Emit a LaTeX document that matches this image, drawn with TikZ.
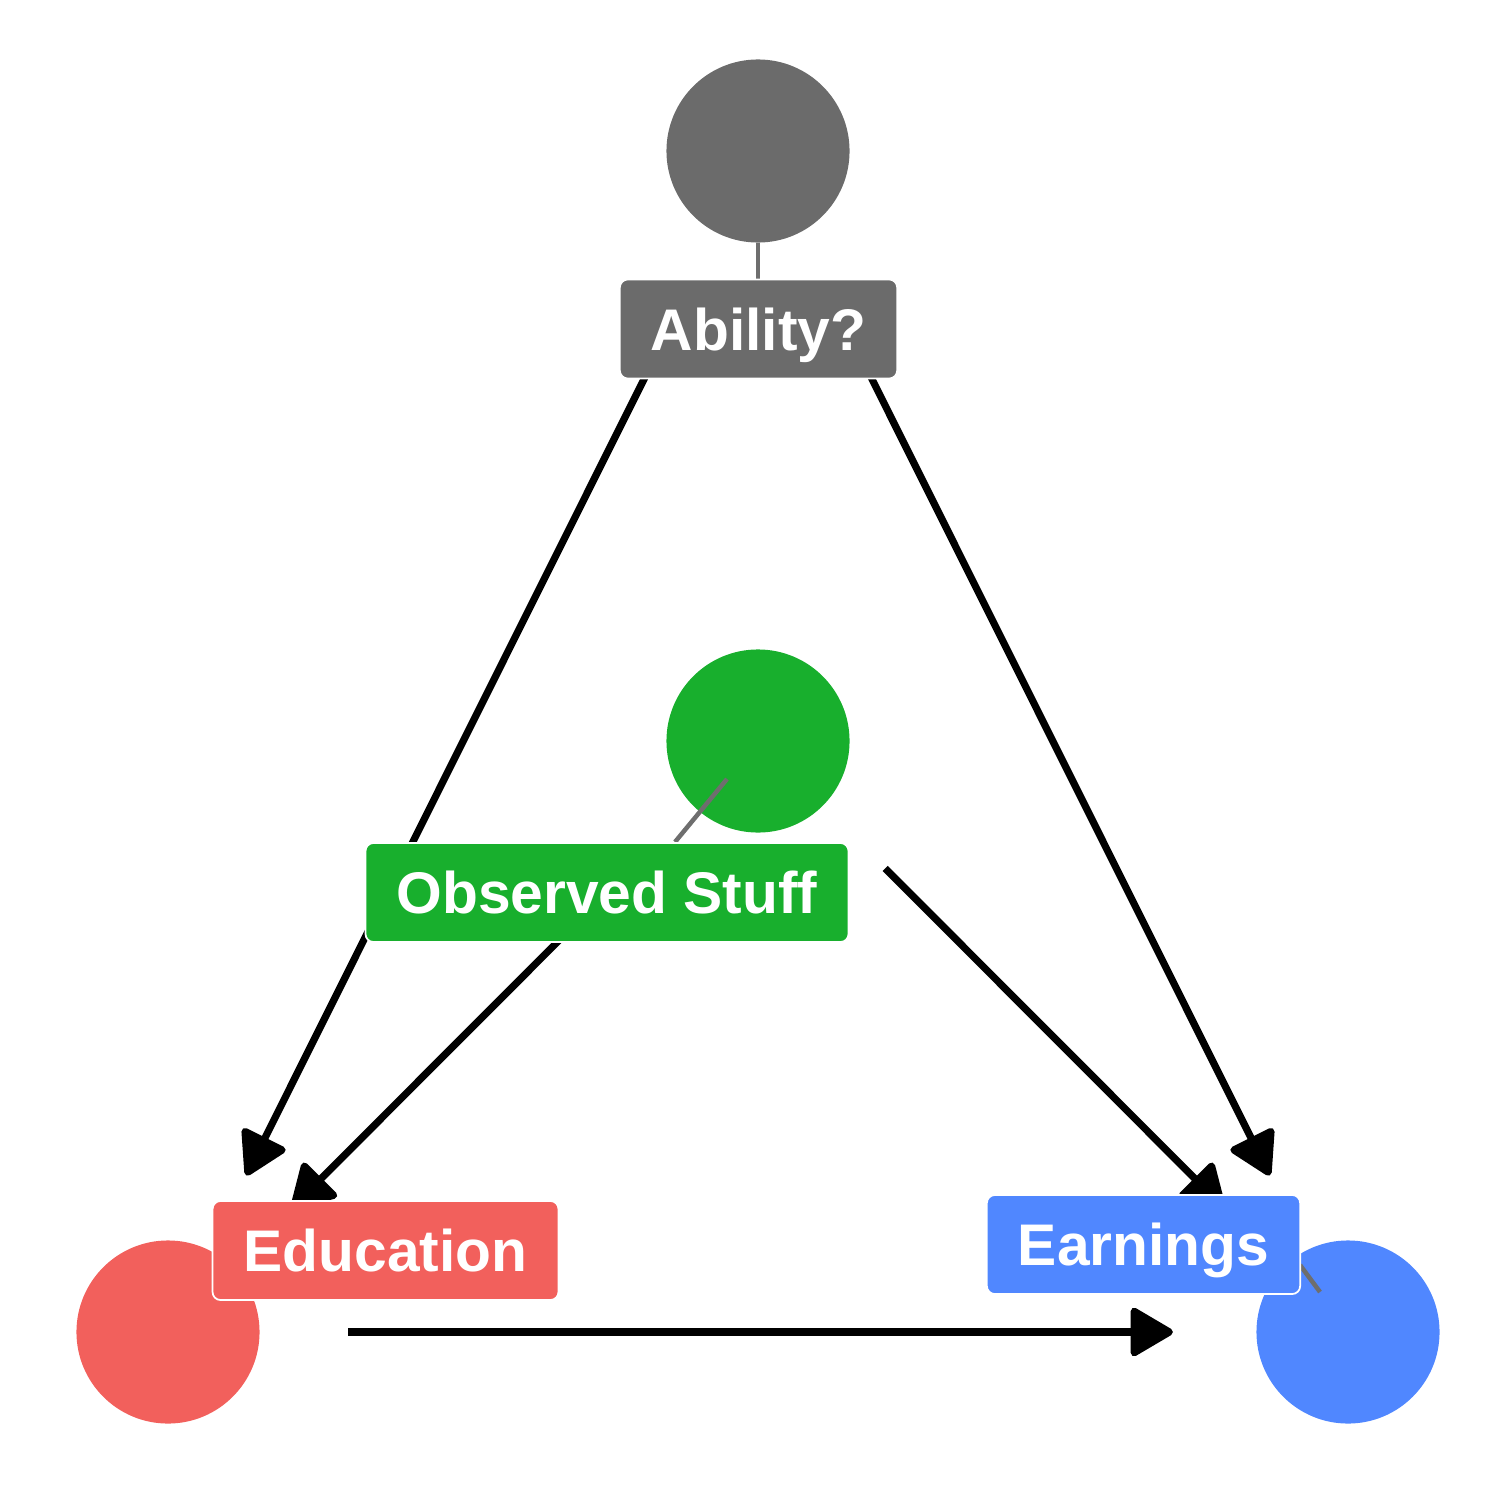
\documentclass[tikz,border=0pt]{standalone}
\usepackage{fontspec}
\setmainfont{Liberation Sans}
\usetikzlibrary{arrows.meta}
\definecolor{cgray}{HTML}{6B6B6B}
\definecolor{cgreen}{HTML}{18AF2D}
\definecolor{cred}{HTML}{F2605C}
\definecolor{cblue}{HTML}{5087FF}
\definecolor{segc}{HTML}{6E6E6E}
\begin{document}
\begin{tikzpicture}[x=0.01cm,y=-0.01cm,
  dot/.style={circle,minimum size=1.83cm,inner sep=0pt,draw=none},
  lab/.style={rounded corners=0.08cm,draw=white,line width=0.5pt,text=white,
    font=\fontsize{16.7}{20}\selectfont\bfseries,minimum height=0.99cm,
    text height=0.42cm,text depth=0cm,inner xsep=0.31cm},
  arr/.style={line width=0.072cm,-{Triangle[length=0.46cm,width=0.52cm,round]},
    shorten <=1.8cm,shorten >=1.75cm},
  seg/.style={draw=segc,line width=0.045cm}]
\useasboundingbox (0,0) rectangle (1500,1500);
% circles
\node[dot,fill=cgray] (abil) at (758,151) {};
\node[dot,fill=cgreen] (obs) at (758,741) {};
\node[dot,fill=cred] (edu) at (168,1332) {};
\node[dot,fill=cblue] (earn) at (1348,1332) {};
% arrows
\draw[arr] (abil.center) -- (edu.center);
\draw[arr] (abil.center) -- (earn.center);
\draw[arr] (obs.center) -- (edu.center);
\draw[arr] (obs.center) -- (earn.center);
\draw[arr] (edu.center) -- (earn.center);
% label leader segments
\coordinate (s1a) at (758,243); \coordinate (s1b) at (758,279);
\coordinate (s2a) at (727,779); \coordinate (s2b) at (675,842);
\coordinate (s3a) at (1300,1265); \coordinate (s3b) at (1320,1292);
\draw[seg] (s1a) -- (s1b);
\draw[seg] (s2a) -- (s2b);
\draw[seg] (s3a) -- (s3b);
% labels
\node[lab,fill=cgray] (labil) at (758.5,329) {Ability?};
\node[lab,fill=cgreen] (lobs) at (607,892.5) {Observed Stuff};
\node[lab,fill=cred] (ledu) at (385.5,1250.5) {Education};
\node[lab,fill=cblue] (learn) at (1143.5,1244.5) {Earnings};
\end{tikzpicture}
\end{document}
